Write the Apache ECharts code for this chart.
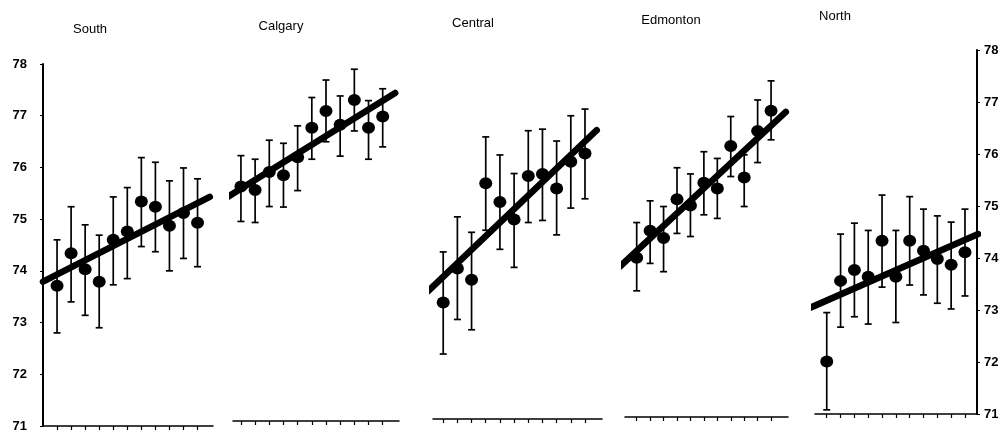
<!DOCTYPE html>
<html><head><meta charset="utf-8">
<script src="https://cdn.jsdelivr.net/npm/echarts@6/dist/echarts.min.js"></script>
<style>html,body{margin:0;padding:0;background:#fff}#c{width:1007px;height:433px}</style>
</head><body><div id="c"></div>
<script>
// ---------- data ----------
const regions = ['South', 'Calgary', 'Central', 'Edmonton', 'North'];
const periods = [1, 2, 3, 4, 5, 6, 7, 8, 9, 10, 11];
const yTicks = [71, 72, 73, 74, 75, 76, 77, 78];

const southMean = [73.71, 74.34, 74.03, 73.79, 74.60, 74.76, 75.34, 75.24, 74.87, 75.12, 74.93];
const southHigh = [74.60, 75.24, 74.89, 74.69, 75.43, 75.61, 76.19, 76.10, 75.74, 75.99, 75.78];
const southLow  = [72.80, 73.40, 73.14, 72.90, 73.73, 73.85, 74.47, 74.37, 74.00, 74.24, 74.08];
const southFit  = [[0, 73.79], [11.87, 75.43]];

const calgaryMean = [75.56, 75.49, 75.84, 75.78, 76.13, 76.70, 77.03, 76.76, 77.24, 76.70, 76.92];
const calgaryHigh = [76.16, 76.09, 76.46, 76.40, 76.74, 77.29, 77.63, 77.32, 77.84, 77.23, 77.46];
const calgaryLow  = [74.88, 74.86, 75.17, 75.16, 75.48, 76.09, 76.43, 76.15, 76.64, 76.09, 76.33];
const calgaryFit  = [[0.09, 75.36], [11.88, 77.38]];

const centralMean = [73.26, 73.92, 73.70, 75.57, 75.21, 74.87, 75.71, 75.75, 75.47, 75.99, 76.15];
const centralHigh = [74.24, 74.92, 74.62, 76.47, 76.12, 75.76, 76.59, 76.62, 76.39, 76.88, 77.01];
const centralLow  = [72.26, 72.93, 72.73, 74.66, 74.29, 73.94, 74.81, 74.85, 74.57, 75.09, 75.27];
const centralFit  = [[-0.1, 73.47], [11.83, 76.60]];

const edmontonMean = [74.08, 74.60, 74.46, 75.21, 75.09, 75.53, 75.42, 76.24, 75.63, 76.53, 76.92];
const edmontonHigh = [74.76, 75.18, 75.07, 75.82, 75.70, 76.13, 76.00, 76.81, 76.07, 77.13, 77.50];
const edmontonLow  = [73.44, 73.97, 73.81, 74.55, 74.49, 74.91, 74.84, 75.65, 75.07, 75.92, 76.36];
const edmontonFit  = [[-0.25, 73.91], [12.1, 76.90]];

const northMean = [72.01, 73.56, 73.77, 73.64, 74.33, 73.64, 74.33, 74.14, 73.98, 73.87, 74.11];
const northHigh = [72.95, 74.46, 74.67, 74.53, 75.21, 74.53, 75.18, 74.94, 74.81, 74.69, 74.94];
const northLow  = [71.08, 72.67, 72.87, 72.73, 73.44, 72.76, 73.48, 73.29, 73.13, 73.02, 73.27];
const northFit  = [[-0.14, 73.05], [11.96, 74.46]];

const means = [southMean, calgaryMean, centralMean, edmontonMean, northMean];
const highs = [southHigh, calgaryHigh, centralHigh, edmontonHigh, northHigh];
const lows  = [southLow, calgaryLow, centralLow, edmontonLow, northLow];
const fits  = [southFit, calgaryFit, centralFit, edmontonFit, northFit];

// ---------- layout (pixels / axis extents) ----------
const layout = [
  {left: 43,  width: 170, top: 64, height: 362, xMin: 0,    xMax: 12.1,  tx: 90,  ty: 29},
  {left: 233, width: 166, top: 61, height: 360, xMin: 0.44, xMax: 12.15, tx: 281, ty: 26},
  {left: 433, width: 169, top: 58, height: 361, xMin: 0.28, xMax: 12.2,  tx: 473, ty: 23},
  {left: 625, width: 163, top: 55, height: 362, xMin: 0.13, xMax: 12.26, tx: 671, ty: 20},
  {left: 815, width: 162, top: 50, height: 364, xMin: 0.15, xMax: 11.87, tx: 835, ty: 16}
];
const FONT = '"Liberation Sans", Arial, sans-serif';

const grids = [], xAxes = [], yAxes = [], series = [], graphics = [];
regions.forEach((name, i) => {
  const L = layout[i];
  grids.push({left: L.left, top: L.top, width: L.width, height: L.height, containLabel: false});
  xAxes.push({
    type: 'value', gridIndex: i, min: L.xMin, max: L.xMax,
    axisLine: {show: true, onZero: false, lineStyle: {color: '#000', width: 1.5}},
    axisTick: {show: true, customValues: periods, length: 4, lineStyle: {color: '#000', width: 1.2}},
    axisLabel: {show: false}, splitLine: {show: false}
  });
  const showY = (i === 0 || i === 4);
  yAxes.push({
    type: 'value', gridIndex: i, min: yTicks[0], max: yTicks[yTicks.length - 1], interval: 1,
    show: showY, position: i === 4 ? 'right' : 'left',
    axisLine: {show: showY, lineStyle: {color: '#000', width: 2}},
    axisTick: {show: showY, length: 3, lineStyle: {color: '#000', width: 1}},
    axisLabel: {show: showY, margin: i === 4 ? 7 : 16, color: '#000', fontSize: 13, fontWeight: 'bold', fontFamily: FONT},
    splitLine: {show: false}
  });
  series.push({
    type: 'custom', xAxisIndex: i, yAxisIndex: i,
    data: periods.map((p, k) => [p, lows[i][k], highs[i][k]]),
    encode: {x: 0, y: [1, 2]},
    renderItem: (params, api) => {
      const x = api.value(0);
      const a = api.coord([x, api.value(1)]);
      const b = api.coord([x, api.value(2)]);
      const w = 3.5, st = {stroke: '#000', lineWidth: 1.7};
      return {type: 'group', children: [
        {type: 'line', shape: {x1: a[0], y1: a[1], x2: b[0], y2: b[1]}, style: st},
        {type: 'line', shape: {x1: b[0] - w, y1: b[1], x2: b[0] + w, y2: b[1]}, style: st},
        {type: 'line', shape: {x1: a[0] - w, y1: a[1], x2: a[0] + w, y2: a[1]}, style: st}
      ]};
    },
    silent: true, z: 2
  });
  series.push({
    type: 'line', xAxisIndex: i, yAxisIndex: i, data: fits[i],
    symbol: 'none', clip: false, silent: true, z: 3,
    lineStyle: {color: '#000', width: 6.5, cap: 'round', opacity: 1}
  });
  series.push({
    type: 'scatter', xAxisIndex: i, yAxisIndex: i,
    data: periods.map((p, k) => [p, means[i][k]]),
    symbol: 'circle', symbolSize: [13, 12], itemStyle: {color: '#000', opacity: 1}, silent: true, z: 4
  });
  graphics.push({
    type: 'text', x: L.tx, y: L.ty,
    style: {text: name, fill: '#000', font: '13px ' + FONT, textAlign: 'center', textVerticalAlign: 'middle'}
  });
});

const chart = echarts.init(document.getElementById('c'), null, {renderer: 'canvas'});
chart.setOption({
  animation: false,
  backgroundColor: '#fff',
  grid: grids, xAxis: xAxes, yAxis: yAxes, series: series, graphic: graphics
});
</script>
</body></html>
